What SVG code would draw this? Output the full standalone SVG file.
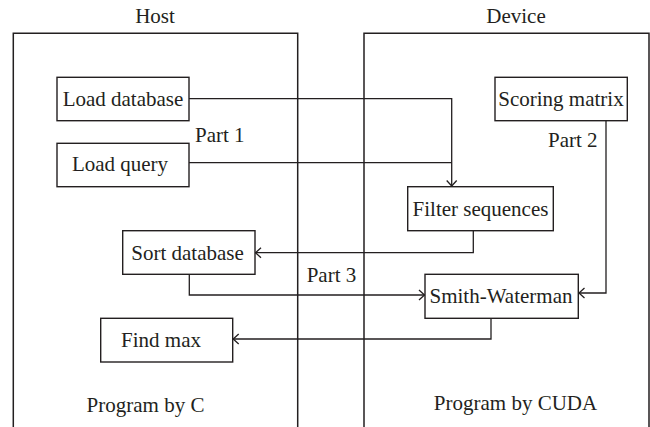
<svg xmlns="http://www.w3.org/2000/svg" width="650" height="427" viewBox="0 0 650 427">
<defs>
<style>
.box{fill:#fff;stroke:#231f20;stroke-width:1.4}
.frame{fill:none;stroke:#231f20;stroke-width:1.5}
.conn{fill:none;stroke:#231f20;stroke-width:1.3}
text{font-family:"Liberation Serif","Times New Roman",serif;font-size:21px;fill:#231f20}
.c{text-anchor:middle}
</style>
<marker id="arr" markerUnits="userSpaceOnUse" markerWidth="14" markerHeight="14" viewBox="-7 -7 14 14" refX="0" refY="0" orient="auto">
<path d="M-5.5,-5 L0,0 L-5.5,5" fill="none" stroke="#231f20" stroke-width="1.3"/>
</marker>
</defs>
<g id="host">
<path class="frame" d="M13.3,427 V33.3 H297.7 V427"/>
<text class="c" x="155" y="23">Host</text>
<text class="c" x="145.5" y="412">Program by C</text>
</g>
<g id="device">
<path class="frame" d="M364,427 V33.3 H649 V427"/>
<text class="c" x="516" y="23">Device</text>
<text class="c" x="515.5" y="409.5">Program by CUDA</text>
</g>
<g id="connectors">
<path class="conn" d="M189,98.7 H451.7 V186" marker-end="url(#arr)"/>
<path class="conn" d="M189,162.7 H451.7"/>
<path class="conn" d="M473.3,230.7 V252.7 H255.5" marker-end="url(#arr)"/>
<path class="conn" d="M189.3,274.3 V295 H424.5" marker-end="url(#arr)"/>
<path class="conn" d="M606,121 V293 H579" marker-end="url(#arr)"/>
<path class="conn" d="M491,318.3 V339 H233.2" marker-end="url(#arr)"/>
<text x="195" y="141.7">Part 1</text>
<text x="548" y="146.7">Part 2</text>
<text x="306.7" y="281.7">Part 3</text>
</g>
<g id="load-database">
<rect class="box" x="57" y="77.3" width="132" height="43.4"/>
<text class="c" x="123" y="106">Load database</text>
</g>
<g id="load-query">
<rect class="box" x="57" y="143.3" width="132" height="43.4"/>
<text class="c" x="120" y="170.5">Load query</text>
</g>
<g id="scoring-matrix">
<rect class="box" x="495" y="77.3" width="132.3" height="43.4"/>
<text class="c" x="561" y="106">Scoring matrix</text>
</g>
<g id="filter-sequences">
<rect class="box" x="407.7" y="186.7" width="145.6" height="44"/>
<text class="c" x="480.5" y="216">Filter sequences</text>
</g>
<g id="sort-database">
<rect class="box" x="122.7" y="230.7" width="132.3" height="43.6"/>
<text class="c" x="187.5" y="260">Sort database</text>
</g>
<g id="smith-waterman">
<rect class="box" x="425" y="274.3" width="153.3" height="44"/>
<text class="c" x="501" y="303">Smith-Waterman</text>
</g>
<g id="find-max">
<rect class="box" x="100.7" y="318.3" width="132" height="43.7"/>
<text class="c" x="161" y="347">Find max</text>
</g>
</svg>
